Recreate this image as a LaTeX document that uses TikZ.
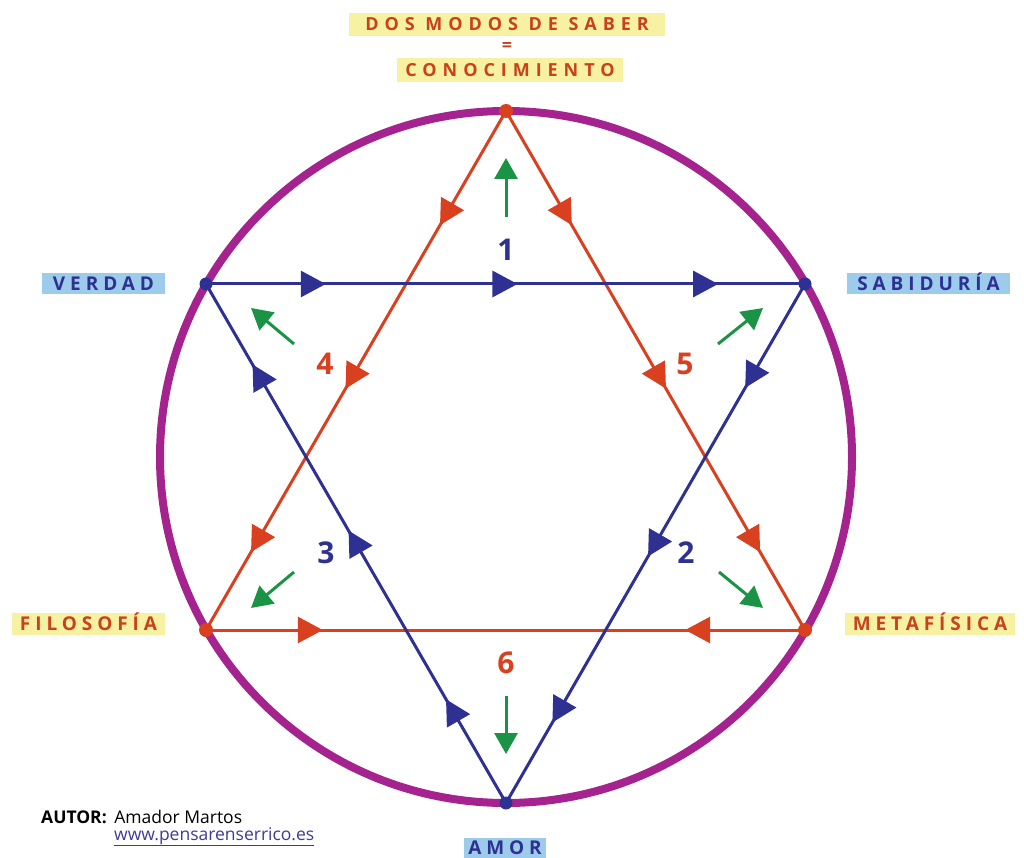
\documentclass[tikz,border=0pt]{standalone}
\usepackage{fontspec}
\setmainfont{Open Sans}
\newfontfamily\lblfont[LetterSpace=26]{Open Sans}
\newfontfamily\ttlfont[LetterSpace=33]{Open Sans}
\usetikzlibrary{arrows.meta,decorations.markings}
\definecolor{myred}{HTML}{D8401F}
\definecolor{myblue}{HTML}{2E3192}
\definecolor{mypurple}{HTML}{A4238E}
\definecolor{mygreen}{HTML}{1A9444}
\definecolor{ybg}{HTML}{F6F1A3}
\definecolor{bbg}{HTML}{9CCBEC}
\definecolor{rtext}{HTML}{C9421C}
\definecolor{urlblue}{HTML}{3B3D9A}
\tikzset{
  tri/.tip={Triangle[length=25pt,width=26pt]},
  edge3/.style n args={4}{line width=3pt, draw=#1, postaction={decorate},
    decoration={markings,
      mark=at position #2 with {\arrow[#1]{tri}},
      mark=at position #3 with {\arrow[#1]{tri}},
      mark=at position #4 with {\arrow[#1]{tri}}}},
  edgein/.style={line width=3pt, draw=#1, postaction={decorate},
    decoration={markings,
      mark=at position 0.195 with {\arrow[#1]{tri}},
      mark=at position 0.8 with {\arrowreversed[#1]{tri}}}},
  garrow/.style={line width=3pt, draw=mygreen, -{Triangle[length=21pt,width=23pt]}},
  lab/.style={inner sep=0pt, text height=13.6pt, text depth=0pt, font=\lblfont\bfseries\fontsize{19}{21}\selectfont},
  ylab/.style={lab, fill=ybg, text=rtext},
  blab/.style={lab, fill=bbg, text=myblue},
  ttl/.style={ylab, text height=12.9pt, font=\ttlfont\bfseries\fontsize{18}{20}\selectfont},
  num/.style={font=\bfseries\fontsize{30}{32}\selectfont, inner sep=0pt},
}
\begin{document}
\begin{tikzpicture}[x=1pt,y=-1pt]
\useasboundingbox (0,0) rectangle (1024,858);
\coordinate (C) at (506,457);
\coordinate (T) at (506,111);
\coordinate (V) at (206,284);
\coordinate (S) at (805,284);
\coordinate (F) at (206,630);
\coordinate (M) at (805,630);
\coordinate (A) at (506,803);
% circle
\draw[mypurple, line width=8pt] (C) circle (346pt);
% red triangle
\draw[edge3={myred}{0.22}{0.535}{0.85}] (T) -- (F);
\draw[edge3={myred}{0.22}{0.535}{0.85}] (T) -- (M);
\draw[edgein=myred] (F) -- (M);
% blue triangle
\draw[edge3={myblue}{0.2}{0.52}{0.855}] (V) -- (S);
\draw[edge3={myblue}{0.2}{0.525}{0.845}] (A) -- (V);
\draw[edge3={myblue}{0.2}{0.525}{0.845}] (S) -- (A);
% dots
\fill[myred] (T) circle (7pt);
\fill[myred] (F) circle (7pt);
\fill[myred] (M) circle (7pt);
\fill[myblue] (V) circle (6.5pt);
\fill[myblue] (S) circle (6.5pt);
\fill[myblue] (A) circle (6.5pt);
% green arrows
\coordinate (g1a) at (506,217); \coordinate (g1b) at (506,158);
\coordinate (g4a) at (294,344); \coordinate (g4b) at (251,308);
\coordinate (g5a) at (718,344); \coordinate (g5b) at (763,308);
\coordinate (g3a) at (294,572); \coordinate (g3b) at (251,608);
\coordinate (g2a) at (719,572); \coordinate (g2b) at (763,608);
\coordinate (g6a) at (506,696); \coordinate (g6b) at (506,754);
\draw[garrow] (g1a) -- (g1b);
\draw[garrow] (g4a) -- (g4b);
\draw[garrow] (g5a) -- (g5b);
\draw[garrow] (g3a) -- (g3b);
\draw[garrow] (g2a) -- (g2b);
\draw[garrow] (g6a) -- (g6b);
% numbers
\node[num, text=myblue] (n1) at (506,250) {1};
\node[num, text=myred] (n4) at (325,364) {4};
\node[num, text=myred] (n5) at (685,364) {5};
\node[num, text=myblue] (n3) at (326,553) {3};
\node[num, text=myblue] (n2) at (686,553) {2};
\node[num, text=myred] (n6) at (506,663) {6};
% labels
\node[ttl, minimum width=316pt, minimum height=23pt] (t1) at (507,24.5) {DOS MODOS DE SABER};
\node[text=rtext, font=\bfseries\fontsize{18}{20}\selectfont, inner sep=0pt] (eq) at (507,47) {=};
\node[ttl, minimum width=226pt, minimum height=24pt] (t2) at (510,70) {CONOCIMIENTO};
\node[blab, minimum width=123pt, minimum height=21pt] (lv) at (103.5,283.5) {VERDAD};
\node[blab, minimum width=163pt, minimum height=21pt] (ls) at (928.5,283.5) {SABIDURÍA};
\node[ylab, minimum width=153pt, minimum height=22pt] (lf) at (88.5,624) {FILOSOFÍA};
\node[ylab, minimum width=170pt, minimum height=22pt] (lm) at (930,624) {METAFÍSICA};
\node[blab, minimum width=82pt, minimum height=20pt] (la) at (505,848) {AMOR};
% author
\node[anchor=base west, inner sep=0pt, font=\fontsize{17.5}{20}\selectfont] (autor) at (41,823) {\textbf{AUTOR:}\hspace{3pt} Amador Martos};
\node[anchor=base west, inner sep=0pt, font=\fontsize{17.5}{20}\selectfont, text=urlblue] (url) at (114,840) {\underline{www.pensarenserrico.es}};
\end{tikzpicture}
\end{document}
